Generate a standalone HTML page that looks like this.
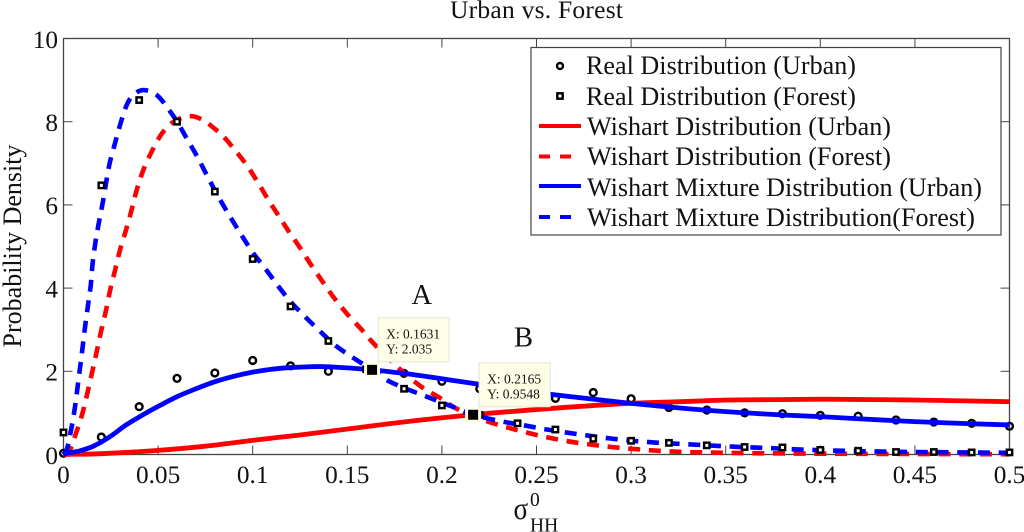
<!DOCTYPE html>
<html lang="en">
<head>
<meta charset="utf-8">
<title>Urban vs. Forest</title>
<style>
html,body{margin:0;padding:0;background:#fff;width:1024px;height:532px;overflow:hidden}
svg{display:block}
text{font-family:"Liberation Serif",serif;fill:#111}
</style>
</head>
<body>
<svg id="chart" width="1024" height="532" viewBox="0 0 1024 532" xmlns="http://www.w3.org/2000/svg">
  <rect width="1024" height="532" fill="#fff"/>
  <text x="536.5" y="18" font-size="25.5" text-anchor="middle" textLength="173" lengthAdjust="spacing">Urban vs. Forest</text>
  <rect x="63.5" y="38.5" width="946" height="416" fill="none" stroke="#444" stroke-width="1.3"/>
  <g id="ticks"></g>
  <g id="marks"></g>
  <text transform="translate(21,246) rotate(-90)" font-size="26" text-anchor="middle">Probability Density</text>
  <g>
    <text transform="translate(513.5,519) scale(0.85,1)" font-size="32">σ</text>
    <text x="530" y="506" font-size="19.5">0</text>
    <text x="530" y="531.5" font-size="19.5">HH</text>
  </g>
  <text x="411.5" y="304" font-size="28.5">A</text>
  <text x="514" y="346.5" font-size="28.5">B</text>
  <g id="tips"></g>
  <g>
    <rect x="531" y="47.5" width="470" height="187.5" fill="#fff" stroke="#444" stroke-width="1.2"/>
    <g>
      <circle cx="560" cy="66" r="3" fill="#fff" stroke="#000" stroke-width="2.4"/>
      <text x="586" y="74" font-size="26.1" textLength="270" lengthAdjust="spacing">Real Distribution (Urban)</text>
    </g>
    <g>
      <rect x="557.3" y="93.3" width="5.4" height="5.4" fill="#fff" stroke="#000" stroke-width="2.4"/>
      <text x="586" y="105" font-size="26.1" textLength="270" lengthAdjust="spacing">Real Distribution (Forest)</text>
    </g>
    <g>
      <line x1="539" y1="126" x2="581" y2="126" stroke="#f00" stroke-width="4"/>
      <text x="587" y="135" font-size="26.1" textLength="304" lengthAdjust="spacing">Wishart Distribution (Urban)</text>
    </g>
    <g>
      <line x1="539" y1="156.5" x2="571" y2="156.5" stroke="#f00" stroke-width="4" stroke-dasharray="11 10"/>
      <text x="587" y="165" font-size="26.1" textLength="304" lengthAdjust="spacing">Wishart Distribution (Forest)</text>
    </g>
    <g>
      <line x1="539" y1="186" x2="581" y2="186" stroke="#00f" stroke-width="4"/>
      <text x="587" y="196" font-size="26.1" textLength="395" lengthAdjust="spacing">Wishart Mixture Distribution (Urban)</text>
    </g>
    <g>
      <line x1="539" y1="217" x2="571" y2="217" stroke="#00f" stroke-width="4" stroke-dasharray="11 10"/>
      <text x="587" y="226" font-size="26.1" textLength="388" lengthAdjust="spacing">Wishart Mixture Distribution(Forest)</text>
    </g>
  </g>
</svg>
<script>
const xTickLabels = ["0","0.05","0.1","0.15","0.2","0.25","0.3","0.35","0.4","0.45","0.5"];
const xTickValues = [0,0.05,0.1,0.15,0.2,0.25,0.3,0.35,0.4,0.45,0.5];
const yTickValues = [0,2,4,6,8,10];

const realX = [0,0.02,0.04,0.06,0.08,0.1,0.12,0.14,0.16,0.18,0.2,0.22,0.24,0.26,0.28,0.3,0.32,0.34,0.36,0.38,0.4,0.42,0.44,0.46,0.48,0.5];
const realUrban = [0.03,0.42,1.15,1.83,1.96,2.26,2.13,2.0,2.05,1.95,1.76,1.58,1.5,1.35,1.49,1.34,1.13,1.07,1.0,0.98,0.94,0.92,0.83,0.78,0.75,0.68];
const realForest = [0.53,6.47,8.52,8.0,6.32,4.7,3.56,2.73,2.05,1.58,1.18,0.95,0.75,0.6,0.38,0.33,0.28,0.22,0.18,0.17,0.11,0.09,0.06,0.06,0.05,0.05];

const wishartUrbanX = [0,0.02,0.05,0.075,0.1,0.125,0.146,0.1814,0.2165,0.2588,0.2995,0.326,0.352,0.4017,0.449,0.5];
const wishartUrbanY = [0,0.02,0.1,0.2,0.34,0.47,0.59,0.79,0.9548,1.11,1.23,1.27,1.31,1.33,1.31,1.27];

const wishartForestX = [0,0.0031,0.0066,0.01,0.0126,0.0151,0.0175,0.0198,0.0223,0.0246,0.0272,0.0299,0.033,0.036,0.0387,0.0422,0.0466,0.0527,0.0598,0.0695,0.0818,0.0906,0.0972,0.103,0.1088,0.1127,0.1185,0.125,0.1307,0.137,0.1426,0.1497,0.1576,0.1637,0.1743,0.1814,0.19,0.199,0.207,0.2217,0.2429,0.2625,0.2836,0.3047,0.3224,0.35,0.4,0.5];
const wishartForestY = [0,0.09,0.51,0.99,1.47,1.97,2.46,2.95,3.43,3.94,4.42,4.92,5.39,5.88,6.36,6.84,7.28,7.76,8.04,8.12,7.76,7.32,6.93,6.52,6.08,5.81,5.4,4.97,4.57,4.15,3.79,3.39,3.0,2.68,2.2,1.91,1.6,1.36,1.12,0.83,0.55,0.35,0.21,0.12,0.07,0.04,0.02,0.005];

const mixtureUrbanX = [0,0.0017,0.0087,0.0158,0.0246,0.0334,0.0422,0.051,0.06,0.07,0.08,0.09,0.1,0.11,0.12,0.13,0.14,0.1631,0.1814,0.2,0.2165,0.25,0.28,0.3,0.325,0.35,0.38,0.4,0.42,0.45,0.48,0.5];
const mixtureUrbanY = [0,0.03,0.09,0.2,0.43,0.72,0.96,1.18,1.39,1.58,1.75,1.88,1.98,2.05,2.09,2.11,2.11,2.035,1.94,1.82,1.71,1.49,1.33,1.23,1.12,1.03,0.95,0.91,0.86,0.79,0.74,0.71];

const mixtureForestX = [0,0.0017,0.004,0.0059,0.0073,0.0087,0.0101,0.0114,0.0129,0.0144,0.0154,0.0168,0.0188,0.021,0.0242,0.0272,0.0299,0.0334,0.0369,0.0422,0.0493,0.0545,0.0598,0.0651,0.0707,0.0757,0.0818,0.088,0.0937,0.1003,0.1065,0.1131,0.1201,0.1273,0.1352,0.1435,0.1523,0.1631,0.1725,0.192,0.2078,0.2165,0.2323,0.2448,0.2554,0.2748,0.2959,0.3153,0.3327,0.3532,0.3751,0.3947,0.4333,0.5];
const mixtureForestY = [0,0.11,0.59,1.09,1.57,2.07,2.58,3.07,3.57,4.07,4.6,5.08,5.6,6.12,6.96,7.48,7.92,8.4,8.64,8.76,8.64,8.36,8.02,7.6,7.16,6.72,6.2,5.72,5.3,4.84,4.48,4.07,3.67,3.33,2.98,2.63,2.35,2.035,1.75,1.39,1.11,0.9548,0.79,0.69,0.6,0.47,0.35,0.28,0.24,0.19,0.15,0.11,0.07,0.04];

const tipX = [0.1631,0.2165];
const tipY = [2.035,0.9548];
const tipLabelX = ["X: 0.1631","X: 0.2165"];
const tipLabelY = ["Y: 2.035","Y: 0.9548"];

const NS = "http://www.w3.org/2000/svg";
const X0 = 63.5, X1 = 1009.5, Y0 = 454.5, Y1 = 38.5;
function sx(v){ return X0 + (v - 0) / 0.5 * (X1 - X0); }
function sy(v){ return Y0 - v / 10 * (Y0 - Y1); }
function make(tag, attrs, parent){
  const el = document.createElementNS(NS, tag);
  for (const k in attrs) el.setAttribute(k, attrs[k]);
  parent.appendChild(el);
  return el;
}
function tangent(a, c){
  const dx = c[0] - a[0], dy = c[1] - a[1];
  const len = Math.hypot(dx, dy) || 1;
  return [dx / len, dy / len];
}
function curve(xs, ys){
  const p = xs.map((x, i) => [sx(x), sy(ys[i])]);
  let d = "M" + p[0][0].toFixed(2) + " " + p[0][1].toFixed(2);
  for (let i = 0; i < p.length - 1; i++){
    const a = p[Math.max(i - 1, 0)], b = p[i], c = p[i + 1], e = p[Math.min(i + 2, p.length - 1)];
    const seg = Math.hypot(c[0] - b[0], c[1] - b[1]) / 3;
    const t1 = tangent(a, c), t2 = tangent(b, e);
    const c1x = b[0] + t1[0] * seg, c1y = Math.min(Y0, b[1] + t1[1] * seg);
    const c2x = c[0] - t2[0] * seg, c2y = Math.min(Y0, c[1] - t2[1] * seg);
    d += "C" + c1x.toFixed(2) + " " + c1y.toFixed(2) + " " + c2x.toFixed(2) + " " + c2y.toFixed(2) + " " + c[0].toFixed(2) + " " + c[1].toFixed(2);
  }
  return d;
}

const ticks = document.getElementById("ticks");
xTickValues.forEach((v, i) => {
  if (i > 0 && i < xTickValues.length - 1) {
    const b = make("line", {x1:sx(v), x2:sx(v), y1:Y0, y2:Y0 - 9, stroke:"#444", "stroke-width":1}, ticks);
    
    
    const t = make("line", {x1:sx(v), x2:sx(v), y1:Y1, y2:Y1 + 9, stroke:"#444", "stroke-width":1}, ticks);
    
    
  }
  const lab = make("text", {x:sx(v), y:483, "font-size":25.3, "text-anchor":"middle"}, ticks);
  lab.textContent = xTickLabels[i];
  
  
});
yTickValues.forEach((v) => {
  if (v > 0 && v < 10) {
    const l = make("line", {x1:X0, x2:X0 + 9, y1:sy(v), y2:sy(v), stroke:"#444", "stroke-width":1}, ticks);
    
    
    const r = make("line", {x1:X1, x2:X1 - 9, y1:sy(v), y2:sy(v), stroke:"#444", "stroke-width":1}, ticks);
    
    
  }
  const lab = make("text", {x:58, y:sy(v) + 9.3, "font-size":25.3, "text-anchor":"end"}, ticks);
  lab.textContent = String(v);
  
  
});

const marks = document.getElementById("marks");
realX.forEach((x, i) => {
  const c = make("circle", {cx:sx(x), cy:sy(realUrban[i]), r:3.4, fill:"none", stroke:"#000", "stroke-width":2.4}, marks);
  
  
});

const lineA = make("path", {d:curve(wishartForestX, wishartForestY), fill:"none", stroke:"#f00", "stroke-width":4.6, "stroke-dasharray":"12 8.7"}, marks);


const lineB = make("path", {d:curve(wishartUrbanX, wishartUrbanY), fill:"none", stroke:"#f00", "stroke-width":4.8}, marks);


const lineC = make("path", {d:curve(mixtureForestX, mixtureForestY), fill:"none", stroke:"#00f", "stroke-width":4.6, "stroke-dasharray":"12 8.7"}, marks);


const lineD = make("path", {d:curve(mixtureUrbanX, mixtureUrbanY), fill:"none", stroke:"#00f", "stroke-width":4.8}, marks);



realX.forEach((x, i) => {
  const s = make("rect", {x:sx(x) - 2.7, y:sy(realForest[i]) - 2.7, width:5.4, height:5.4, fill:"#fff", stroke:"#000", "stroke-width":2.4}, marks);
  
  
});

const tips = document.getElementById("tips");
tipX.forEach((x, i) => {
  const px = sx(x), py = sy(tipY[i]);
  const halo = make("rect", {x:px - 8, y:py - 8, width:16, height:16, fill:"#ffffe8"}, tips);
  
  
  const box = make("rect", {x:px + 6, y:py - 52, width:71, height:44, fill:"#ffffe8", stroke:"#e4e4d4", "stroke-width":1}, tips);
  
  
  const mk = make("rect", {x:px - 5, y:py - 5, width:10, height:10, fill:"#000"}, tips);
  
  
  const t1 = make("text", {x:px + 14, y:py - 31.5, "font-size":13.5}, tips);
  t1.textContent = tipLabelX[i];
  
  
  const t2 = make("text", {x:px + 14, y:py - 16.5, "font-size":13.5}, tips);
  t2.textContent = tipLabelY[i];
  
  
});
</script>
</body>
</html>
